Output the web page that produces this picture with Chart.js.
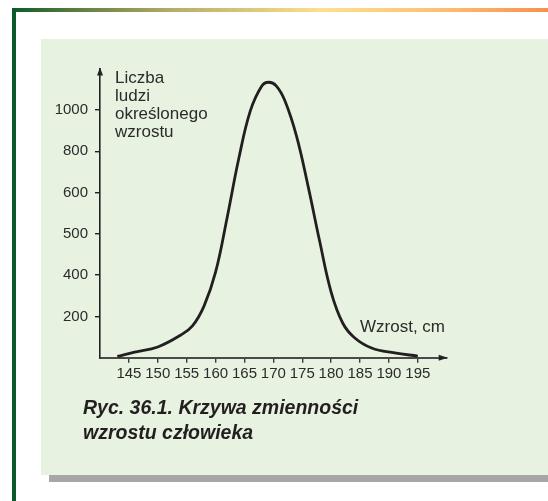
<!DOCTYPE html>
<html lang="pl">
<head>
<meta charset="utf-8">
<title>Krzywa zmienności wzrostu człowieka</title>
<script src="https://cdn.jsdelivr.net/npm/chart.js@4.4.1/dist/chart.umd.min.js"></script>
<style>
    html, body { margin: 0; padding: 0; background: #ffffff; }
    body { width: 548px; height: 501px; position: relative; overflow: hidden; font-family: "Liberation Sans", Arial, sans-serif; }
    .frame-top { position: absolute; left: 12px; top: 8px; width: 536px; height: 4px;
        background: linear-gradient(to right, #0c5a2c 0%, #5f7c3e 12%, #b6ad68 30%, #fde08c 58%, #fdbf73 80%, #f7904f 100%); }
    .frame-left { position: absolute; left: 12px; top: 8px; width: 4px; height: 493px; background: #0c5a2c; }
    .panel { position: absolute; left: 41px; top: 39px; width: 507px; height: 436px; background: #e7f2e1; }
    .shadow { position: absolute; left: 49px; top: 475px; width: 499px; height: 7px; background: #a6a6a6; }
    #chart { position: absolute; left: 0; top: 0; }
    .caption { position: absolute; left: 83px; top: 395px; font: italic bold 19.5px/25px "Liberation Sans", Arial, sans-serif; color: #231f20; }
</style>
</head>
<body>
<div class="frame-top"></div>
<div class="frame-left"></div>
<div class="panel"></div>
<div class="shadow"></div>
<canvas id="chart" width="548" height="501"></canvas>
<div class="caption">Ryc. 36.1. Krzywa zmienności<br>wzrostu człowieka</div>

<script>
// height in cm and number of people of that height
const heightsCm = [143, 146, 150, 154, 156, 158, 160, 162, 164, 166, 168, 169.2,
    170.5, 172, 174, 176, 178, 180, 182, 184, 187, 191, 195];
const peopleCount = [6, 27, 52, 110, 154, 250, 407, 539, 762, 994, 1116, 1134,
    1116, 1044, 874, 632, 483, 318, 168, 98, 47, 23, 8];

const xTickValues = [145, 150, 155, 160, 165, 170, 175, 180, 185, 190, 195];
// y labels are evenly spaced on the axis, not proportional
const yTickValues = [0, 200, 400, 500, 600, 800, 1000];

const ink = '#2b2b2b';
const font = '"Liberation Sans", Arial, sans-serif';

// count -> position on the evenly spaced y axis (piecewise linear between labels)
const toStep = (count) => {
    for (let i = 1; i < yTickValues.length; i++) {
        if (count <= yTickValues[i]) {
            const a = yTickValues[i - 1], b = yTickValues[i];
            return i - 1 + (count - a) / (b - a);
        }
    }
    const n = yTickValues.length - 1;
    const span = yTickValues[n] - yTickValues[n - 1];
    return n + (count - yTickValues[n]) / span;
};

const points = heightsCm.map((h, i) => ({x: h, y: toStep(peopleCount[i])}));

const axisDecor = {
    id: 'axisDecor',
    afterDraw(chart) {
        const {ctx, chartArea} = chart;
        ctx.save();
        // arrow heads
        ctx.fillStyle = '#222';
        ctx.beginPath();
        ctx.moveTo(chartArea.left, chartArea.top - 1);
        ctx.lineTo(chartArea.left - 3, chartArea.top + 7);
        ctx.lineTo(chartArea.left + 3, chartArea.top + 7);
        ctx.closePath();
        ctx.fill();
        ctx.beginPath();
        ctx.moveTo(chartArea.right + 1, chartArea.bottom);
        ctx.lineTo(chartArea.right - 8, chartArea.bottom - 3);
        ctx.lineTo(chartArea.right - 8, chartArea.bottom + 3);
        ctx.closePath();
        ctx.fill();

        // axis titles
        ctx.fillStyle = ink;
        ctx.font = '17px ' + font;
        ctx.textAlign = 'left';
        ctx.textBaseline = 'alphabetic';
        ['Liczba', 'ludzi', 'określonego', 'wzrostu'].forEach((line, i) => {
            ctx.fillText(line, chartArea.left + 15, 83 + i * 18);
        });
        ctx.fillText('Wzrost, cm', 360, 332);
        ctx.restore();
    }
};

const config = {
    type: 'line',
    data: {
        datasets: [{
            data: points,
            borderColor: '#231f20',
            borderWidth: 2.8,
            pointRadius: 0,
            fill: false,
            tension: 0.4,
            clip: 6,
        }]
    },
    options: {
        responsive: false,
        animation: false,
        layout: {padding: {left: 0, top: 68.6, right: 101.3, bottom: 103.3}},
        plugins: {
            legend: {display: false},
            tooltip: {enabled: false},
            title: {display: false},
        },
        scales: {
            x: {
                type: 'linear',
                min: 140,
                max: 200,
                afterBuildTicks: (scale) => { scale.ticks = xTickValues.map(v => ({value: v})); },
                afterFit: (scale) => { scale.height = 40; },
                grid: {drawOnChartArea: false, tickLength: 5, color: '#3a3a3a', lineWidth: 1.4},
                border: {display: true, color: '#4a4a4a', width: 2},
                ticks: {color: ink, font: {family: font, size: 15}, padding: 2, maxRotation: 0, autoSkip: false},
            },
            y: {
                type: 'linear',
                min: 0,
                max: 7,
                afterBuildTicks: (scale) => { scale.ticks = yTickValues.slice(1).map((v, i) => ({value: i + 1})); },
                afterFit: (scale) => { scale.width = 100; },
                grid: {drawOnChartArea: false, tickLength: 5, color: '#222', lineWidth: 1.4},
                border: {display: true, color: '#222', width: 1.6},
                ticks: {
                    color: ink,
                    font: {family: font, size: 15},
                    padding: 7,
                    autoSkip: false,
                    callback: (value) => String(yTickValues[value]),
                },
            }
        }
    },
    plugins: [axisDecor]
};

window.addEventListener('DOMContentLoaded', () => {
    new Chart(document.getElementById('chart'), config);
});
</script>
</body>
</html>
